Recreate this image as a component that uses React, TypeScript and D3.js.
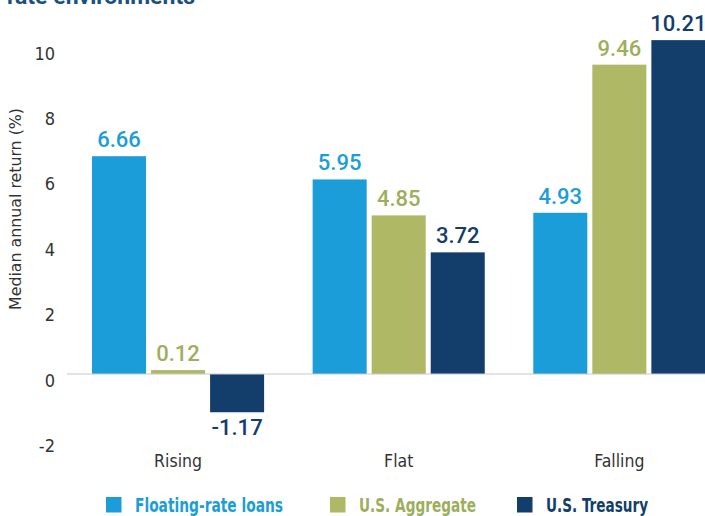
import React from "react";
import * as d3 from "d3";

const categories = ["Rising", "Flat", "Falling"];
const seriesNames = ["Floating-rate loans", "U.S. Aggregate", "U.S. Treasury"];
const floatingRate = [6.66, 5.95, 4.93];
const usAggregate = [0.12, 4.85, 9.46];
const usTreasury = [-1.17, 3.72, 10.21];
const yTicks = [-2, 0, 2, 4, 6, 8, 10];
const barColors = ["#1B9DD9", "#AEB865", "#133E6B"];
const labelColors = ["#1B9DD9", "#9DAE5C", "#133E6B"];

const W = 705;
const H = 516;
const NARROW = "'DejaVu Sans Condensed', 'Liberation Sans Narrow', sans-serif";
const VALUE = "Roboto, 'Liberation Sans', sans-serif";

export default function App() {
  const series = [floatingRate, usAggregate, usTreasury];
  const y = d3.scaleLinear().domain([-2, 10]).range([439.4, 47]);
  const x0 = d3.scaleBand<string>().domain(categories).range([92, 705.4]).paddingInner(0.22).paddingOuter(0);
  const x1 = d3.scaleBand<string>().domain(seriesNames).range([0, x0.bandwidth()]).paddingInner(0.085);

  const legendX = [106, 330, 517];
  const legendTextLen = [148, 117, 102];

  return (
    <svg width={W} height={H} style={{ position: "absolute", left: 0, top: 0, background: "#fff" }}>
      <text
        x={7}
        y={4}
        fill="#1D4F80"
        fontFamily="Roboto, 'Liberation Sans', sans-serif"
        fontWeight={700}
        fontSize={22}
        textLength={188}
        lengthAdjust="spacingAndGlyphs"
      >
        rate environments
      </text>
      <text
        transform={`translate(21,${209}) rotate(-90)`}
        textAnchor="middle"
        fill="#333"
        fontFamily={NARROW}
        fontSize={16}
        textLength={202}
        lengthAdjust="spacingAndGlyphs"
      >
        Median annual return (%)
      </text>
      {yTicks.map((t) => (
        <text key={t} x={55} y={y(t) + 6} textAnchor="end" dominantBaseline="central" fill="#333" fontFamily={NARROW} fontSize={18}>
          {t}
        </text>
      ))}
      {categories.map((c, ci) => (
        <g key={c} transform={`translate(${x0(c)},0)`}>
          {series.map((s, si) => {
            const v = s[ci];
            const top = y(Math.max(0, v));
            const bot = y(Math.min(0, v));
            const bx = x1(seriesNames[si])!;
            const bw = x1.bandwidth();
            return (
              <g key={si}>
                <rect x={bx} y={top} width={bw} height={Math.max(bot - top, 0)} fill={barColors[si]} />
                <text
                  x={bx + bw / 2}
                  y={v >= 0 ? top - 9 : bot + 23}
                  textAnchor="middle"
                  fill={labelColors[si]}
                  fontFamily={VALUE}
                  fontWeight={500}
                  fontSize={22}
                >
                  {v.toFixed(2)}
                </text>
              </g>
            );
          })}
          <text x={x0.bandwidth() / 2} y={467} textAnchor="middle" fill="#333" fontFamily={NARROW} fontSize={17.5}>
            {c}
          </text>
        </g>
      ))}
      <line x1={67} x2={705} y1={y(0)} y2={y(0)} stroke="#C8C8C8" strokeWidth={1} />
      {seriesNames.map((n, i) => (
        <g key={n} transform={`translate(${legendX[i]},497)`}>
          <rect x={0} y={0} width={15.5} height={15.5} fill={barColors[i]} />
          <text
            x={29}
            y={15}
            fill={labelColors[i]}
            fontFamily={NARROW}
            fontWeight={700}
            fontSize={19}
            textLength={legendTextLen[i]}
            lengthAdjust="spacingAndGlyphs"
          >
            {n}
          </text>
        </g>
      ))}
    </svg>
  );
}
